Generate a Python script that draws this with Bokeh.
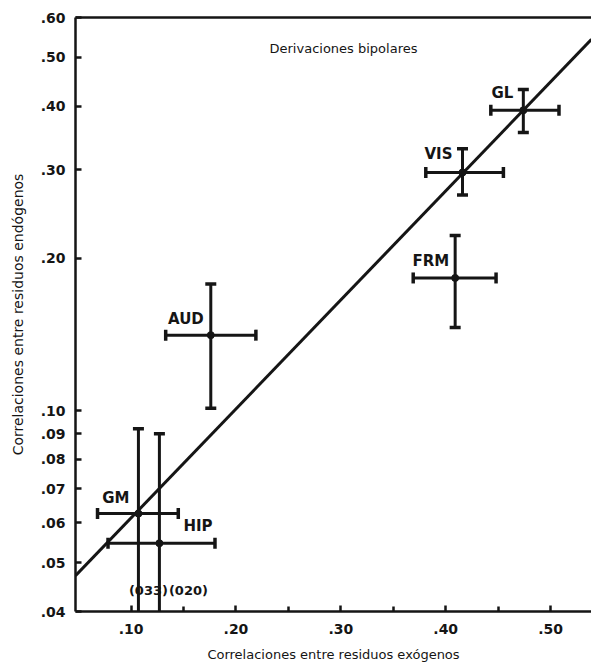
import math
from bokeh.plotting import figure
from bokeh.models import (FixedTicker, CustomJSTickFormatter, LinearAxis, Range1d,
                          ColumnDataSource, Label)
from bokeh.embed import file_html
from bokeh.resources import INLINE
from bokeh.core.properties import value

# ---- data ----
areas = ["GL", "VIS", "FRM", "AUD", "GM", "HIP"]
exo = [0.474, 0.416, 0.409, 0.176, 0.107, 0.127]          # x centre
exo_lo = [0.443, 0.381, 0.369, 0.133, 0.068, 0.078]
exo_hi = [0.508, 0.455, 0.448, 0.219, 0.145, 0.180]
endo = [0.393, 0.296, 0.183, 0.141, 0.0625, 0.0546]       # y centre
endo_lo = [0.355, 0.267, 0.146, 0.101, 0.033, 0.020]
endo_hi = [0.432, 0.330, 0.222, 0.178, 0.092, 0.090]
lower_notes = ["(033)", "(020)"]                           # GM, HIP lower bounds off-axis
fit_x = [0.047, 0.539]
fit_y = [0.0471, 0.543]
x_ticks = [0.10, 0.20, 0.30, 0.40, 0.50]
x_minor = [0.15, 0.25, 0.35, 0.45]
y_ticks = [0.04, 0.05, 0.06, 0.07, 0.08, 0.09, 0.10, 0.20, 0.30, 0.40, 0.50, 0.60]

INK = "#151515"
FONT = "DejaVu Sans"

p = figure(frame_width=516, frame_height=594, x_range=Range1d(0.047, 0.539),
           y_range=Range1d(0.04, 0.60), y_axis_type="log",
           output_backend="svg", toolbar_location=None,
           min_border_left=75, min_border_right=0, min_border_top=17,
           min_border_bottom=57)
p.grid.visible = False
p.outline_line_color = None
p.background_fill_color = "white"

fmt = CustomJSTickFormatter(code="return tick.toFixed(2).replace(/^0/, '');")

xa = p.xaxis[0]
xa.ticker = FixedTicker(ticks=x_ticks, minor_ticks=x_minor)
xa.formatter = fmt
ya = p.yaxis[0]
ya.ticker = FixedTicker(ticks=y_ticks, minor_ticks=[])
ya.formatter = fmt
for ax in (xa, ya):
    ax.axis_line_width = 2.5
    ax.axis_line_color = INK
    ax.major_tick_in = 6
    ax.major_tick_out = 0
    ax.major_tick_line_width = 2.5
    ax.major_tick_line_color = INK
    ax.minor_tick_in = 5
    ax.minor_tick_out = 0
    ax.minor_tick_line_width = 2.5
    ax.minor_tick_line_color = INK
    ax.major_label_text_font = FONT
    ax.major_label_text_font_size = "14px"
    ax.major_label_text_font_style = "bold"
    ax.major_label_text_color = INK
    ax.axis_label_text_font = FONT
    ax.axis_label_text_font_style = "normal"
    ax.axis_label_text_color = INK
xa.axis_label = "Correlaciones entre residuos exógenos"
xa.axis_label_text_font_size = "13px"
xa.major_label_standoff = 12
xa.axis_label_standoff = 10
ya.axis_label = "Correlaciones entre residuos endógenos"
ya.axis_label_text_font_size = "14px"
ya.major_label_standoff = 10
ya.axis_label_standoff = 12

top = LinearAxis(ticker=FixedTicker(ticks=[]), major_label_text_font_size="0px",
                 axis_line_width=2.5, axis_line_color=INK,
                 major_tick_in=0, major_tick_out=0, minor_tick_in=0, minor_tick_out=0)
p.add_layout(top, "above")

src = ColumnDataSource(dict(
    area=areas, x=exo, xlo=exo_lo, xhi=exo_hi, y=endo, ylo=endo_lo, yhi=endo_hi,
    dx=[-10, -10, -6, -7, -9, 24], dy=[-17, -18, -17, -16, -16, -17],
    align=["right", "right", "right", "right", "right", "left"],
))

# regression line
p.line(fit_x, fit_y, line_width=3, color=INK)

# error bars
p.segment(x0="xlo", y0="y", x1="xhi", y1="y", source=src, line_width=3, color=INK)
p.segment(x0="x", y0="ylo", x1="x", y1="yhi", source=src, line_width=3, color=INK)
p.scatter(x="x", y="yhi", source=src, marker="dash", size=11, line_width=3.5, color=INK)
p.scatter(x="x", y="ylo", source=src, marker="dash", size=11, line_width=3.5, color=INK)
p.scatter(x="xlo", y="y", source=src, marker="dash", size=11, angle=math.pi / 2,
          line_width=3.5, color=INK)
p.scatter(x="xhi", y="y", source=src, marker="dash", size=11, angle=math.pi / 2,
          line_width=3.5, color=INK)
p.scatter(x="x", y="y", source=src, size=7, color=INK)

p.text(x="x", y="y", text="area", source=src, x_offset="dx", y_offset="dy",
       text_align="align", text_baseline="middle", text_font=value(FONT),
       text_font_size="15px", text_color=INK, text_font_style="bold")

# notes for off-axis lower bounds (GM, HIP)
note_src = ColumnDataSource(dict(x=exo[4:6], y=[0.04, 0.04], t=lower_notes, dx=[10, 29]))
p.text(x="x", y="y", text="t", source=note_src, x_offset="dx", y_offset=-21,
       text_align="center", text_baseline="middle", text_font=value(FONT),
       text_font_size="13px", text_color=INK, text_font_style="bold")

p.add_layout(Label(x=268, y=563, x_units="screen", y_units="screen",
                   text="Derivaciones bipolares", text_font=FONT,
                   text_font_size="13px", text_color=INK, text_align="center",
                   text_baseline="middle"))

open("out.html", "w").write(file_html(p, INLINE))
